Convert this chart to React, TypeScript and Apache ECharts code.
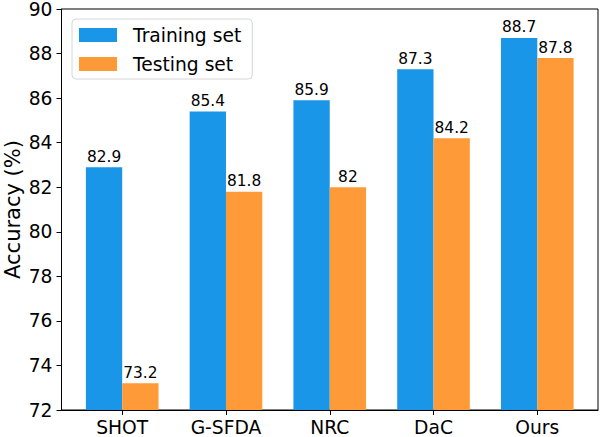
import React, { useEffect, useRef } from "react";
import * as echarts from "echarts";

const categories = ["SHOT", "G-SFDA", "NRC", "DaC", "Ours"];
const trainingSet = [82.9, 85.4, 85.9, 87.3, 88.7];
const testingSet = [73.2, 81.8, 82, 84.2, 87.8];
const categoryIndex = [0, 1, 2, 3, 4];

const FONT = "DejaVu Sans";

export default function App() {
  const ref = useRef<HTMLDivElement>(null);
  useEffect(() => {
    document.body.style.margin = "0";
    const chart = echarts.init(ref.current!, null, { renderer: "svg" });
    const labelCfg = {
      show: true,
      position: "top",
      distance: 3,
      fontFamily: FONT,
      fontSize: 15.4,
      color: "#000",
    };
    chart.setOption({
      animation: false,
      textStyle: { fontFamily: FONT },
      grid: {
        left: 61.5,
        right: 5,
        top: 9,
        bottom: 27,
        containLabel: false,
        outerBoundsMode: "none",
        show: true,
        borderColor: "#000",
        borderWidth: 1,
        backgroundColor: "transparent",
      },
      legend: {
        left: 72,
        top: 19,
        orient: "vertical",
        itemWidth: 38,
        itemHeight: 14,
        itemGap: 9,
        padding: [6, 11, 5, 7],
        backgroundColor: "#fff",
        borderColor: "#d6d6d6",
        borderWidth: 1,
        borderRadius: 4,
        icon: "rect",
        textStyle: {
          fontFamily: FONT,
          fontSize: 18.7,
          lineHeight: 20,
          color: "#000",
          padding: [0, 0, 0, 11],
        },
        data: ["Training set", "Testing set"],
      },
      xAxis: {
        type: "value",
        min: -0.585,
        max: 4.585,
        splitLine: { show: false },
        axisLine: { show: true, onZero: false, lineStyle: { color: "#000", width: 1 } },
        axisTick: {
          show: true,
          length: 5,
          customValues: categoryIndex,
          lineStyle: { color: "#000" },
        },
        axisLabel: {
          customValues: categoryIndex,
          formatter: (v: number) => categories[Math.round(v)] ?? "",
          fontFamily: FONT,
          fontSize: 18.7,
          lineHeight: 18,
          color: "#000",
          margin: 8,
        },
      },
      yAxis: {
        type: "value",
        min: 72,
        max: 90,
        interval: 2,
        name: "Accuracy (%)",
        nameLocation: "middle",
        nameGap: 38,
        nameMoveOverlap: false,
        nameTextStyle: { fontFamily: FONT, fontSize: 21, lineHeight: 22, color: "#000" },
        splitLine: { show: false },
        axisLine: { show: true, onZero: false, lineStyle: { color: "#000", width: 1 } },
        axisTick: { show: true, length: 5, lineStyle: { color: "#000" } },
        axisLabel: {
          fontFamily: FONT,
          fontSize: 18.7,
          color: "#000",
          margin: 9,
        },
      },
      series: [
        {
          name: "Training set",
          type: "bar",
          data: categoryIndex.map((i) => [i, trainingSet[i]]),
          barWidth: "35%",
          barGap: "0%",
          itemStyle: { color: "#1a96e9" },
          label: { ...labelCfg, formatter: (p: any) => String(p.value[1]) },
        },
        {
          name: "Testing set",
          type: "bar",
          data: categoryIndex.map((i) => [i, testingSet[i]]),
          barWidth: "35%",
          barGap: "0%",
          itemStyle: { color: "#ff9a38" },
          label: { ...labelCfg, formatter: (p: any) => String(p.value[1]) },
        },
      ],
    });
    return () => chart.dispose();
  }, []);
  return <div ref={ref} style={{ width: 603, height: 437 }} />;
}
